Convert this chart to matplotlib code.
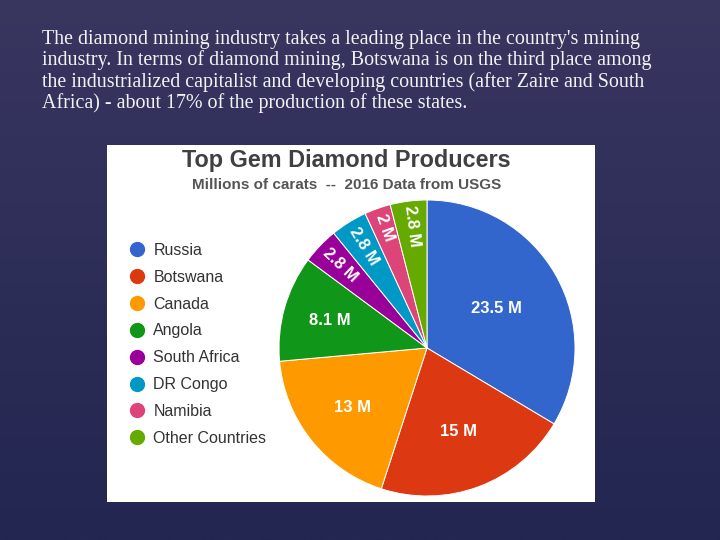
import numpy as np
import matplotlib.pyplot as plt
from matplotlib.lines import Line2D
from matplotlib.patches import Rectangle

# data
countries = ['Russia', 'Botswana', 'Canada', 'Angola', 'South Africa',
             'DR Congo', 'Namibia', 'Other Countries']
carats = [23.5, 15, 13, 8.1, 2.8, 2.8, 2.0, 2.8]
valueLabels = ['23.5 M', '15 M', '13 M', '8.1 M', '2.8 M', '2.8 M', '2 M', '2.8 M']
colours = ['#3366CC', '#DC3912', '#FF9900', '#109618', '#990099',
           '#0099C6', '#DD4477', '#66AA00']
# how far out from the centre each label sits (fraction of radius)
labelRadius = [0.54, 0.6, 0.64, 0.68, 0.81, 0.81, 0.86, 0.83]

slideText = ("The diamond mining industry takes a leading place in the country's mining\n"
             "industry. In terms of diamond mining, Botswana is on the third place among\n"
             "the industrialized capitalist and developing countries (after Zaire and South\n"
             "Africa) - about 17% of the production of these states.")

W, H = 720, 540
fig = plt.figure(figsize=(7.2, 5.4), dpi=100)

# slide background, dark navy gradient
bg = fig.add_axes([0, 0, 1, 1])
top = np.array([0x39, 0x36, 0x60]) / 255
bottom = np.array([0x22, 0x26, 0x50]) / 255
t = np.linspace(0, 1, 256)[:, None]
grad = top[None, :] * (1 - t) + bottom[None, :] * t
bg.imshow(grad[:, None, :], aspect='auto', extent=[0, 1, 0, 1])
# white picture box
bg.add_patch(Rectangle((107 / W, 1 - 502 / H), 488 / W, 357 / H,
                       facecolor='white', edgecolor='none'))
bg.set_xlim(0, 1)
bg.set_ylim(0, 1)
bg.set_axis_off()

fig.text(42 / W, 1 - 30 / H, slideText, family='Liberation Serif', fontsize=14.4,
         color='#f2f2f2', va='top', ha='left', linespacing=1.1)

fig.text(346 / W, 1 - 161 / H, 'Top Gem Diamond Producers', family='Liberation Sans',
         fontsize=16.8, fontweight='bold', color='#404040', ha='center', va='center')
fig.text(347 / W, 1 - 185 / H, 'Millions of carats  --  2016 Data from USGS',
         family='Liberation Sans', fontsize=11, fontweight='bold', color='#555555',
         ha='center', va='center')

# pie
cx, cy, r = 427, 348, 148
ax = fig.add_axes([(cx - r) / W, (H - cy - r) / H, 2 * r / W, 2 * r / H])
wedges, _ = ax.pie(carats, colors=colours, startangle=90, counterclock=False,
                   radius=1, wedgeprops=dict(edgecolor='white', linewidth=0.7))
ax.set_xlim(-1, 1)
ax.set_ylim(-1, 1)
ax.set_aspect('equal')
ax.set_axis_off()

for i, w in enumerate(wedges):
    mid = np.deg2rad((w.theta1 + w.theta2) / 2)
    x = labelRadius[i] * np.cos(mid)
    y = labelRadius[i] * np.sin(mid)
    rot = 0
    if carats[i] < 5:
        rot = np.rad2deg(mid) - 180
    ax.text(x, y, valueLabels[i], color='white', fontsize=12, fontweight='bold',
            family='Liberation Sans', ha='center', va='center', rotation=rot,
            rotation_mode='anchor')

handles = [Line2D([], [], marker='o', linestyle='none', markersize=10,
                  markerfacecolor=c, markeredgecolor=c) for c in colours]
fig.legend(handles, countries, loc='upper left', bbox_to_anchor=(131 / W, 1 - 243 / H),
           frameon=False, borderpad=0, borderaxespad=0, handlelength=0.8,
           handletextpad=0.6, labelspacing=0.74,
           prop=dict(family='Liberation Sans', size=11.5), labelcolor='#333333')

plt.savefig('out.png', dpi=100)
